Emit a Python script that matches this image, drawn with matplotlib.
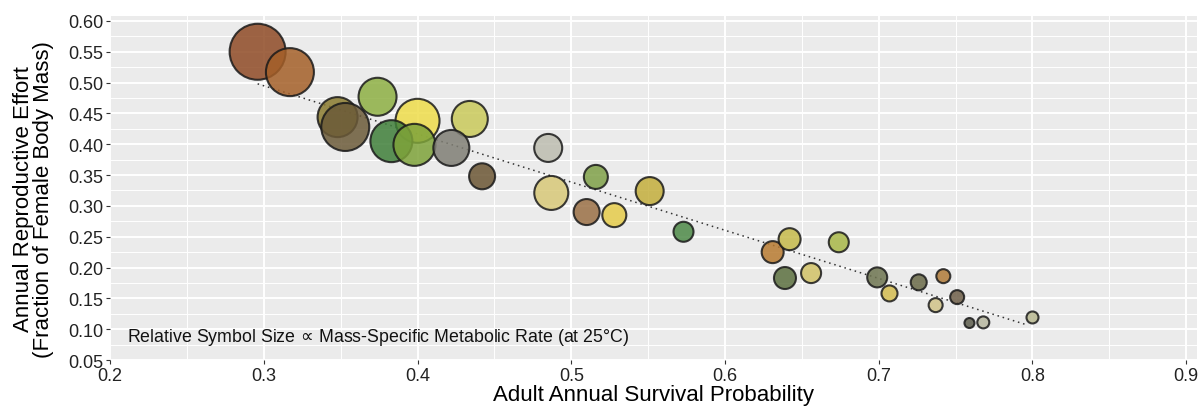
import numpy as np
import matplotlib.pyplot as plt
from matplotlib.ticker import MultipleLocator

plt.rcParams['font.family'] = ['Liberation Sans', 'DejaVu Sans']

# adult survival, reproductive effort, relative metabolic rate (symbol size), colour
survival = [0.296, 0.317, 0.348, 0.353, 0.374, 0.400, 0.383, 0.398, 0.434, 0.422,
            0.442, 0.485, 0.487, 0.516, 0.510, 0.528, 0.551, 0.573, 0.631, 0.642,
            0.639, 0.656, 0.674, 0.699, 0.707, 0.726, 0.742, 0.737, 0.751, 0.759,
            0.768, 0.800]
effort = [0.550, 0.517, 0.444, 0.428, 0.477, 0.438, 0.405, 0.399, 0.441, 0.394,
          0.348, 0.394, 0.321, 0.347, 0.290, 0.285, 0.324, 0.258, 0.225, 0.246,
          0.183, 0.191, 0.241, 0.184, 0.158, 0.176, 0.186, 0.139, 0.152, 0.110,
          0.111, 0.119]
metab_rate = [28, 24, 20, 24, 19, 22, 21, 21, 18, 18,
              13, 14, 17, 12, 13, 12, 14, 10, 11, 11,
              11, 10, 10, 10, 8, 8, 7, 7, 7, 5,
              6, 6]
colours = ['#8E4A25', '#A45F28', '#8A7A2E', '#6B5A38', '#8DB043', '#EEDC4A',
           '#3F7F3A', '#7EA33A', '#C9C95A', '#7F7E74', '#6B5634', '#BDBDB0',
           '#D8C878', '#7FA048', '#9A7045', '#E6CC4A', '#C4AE3C', '#4E8A48',
           '#B87A30', '#C6BA4A', '#5C7040', '#D2C266', '#A8B848', '#6E7450',
           '#D4BC50', '#6A6A48', '#B07A38', '#D0C488', '#6E5E48', '#5E5E4E',
           '#B8B8A0', '#B8B890']

# fitted trend line end points
fit_x = [0.296, 0.797]
fit_y = [0.498, 0.1065]

fig = plt.figure(figsize=(12, 4.1), dpi=100)
ax = fig.add_axes([0.0917, 0.1195, 0.9058, 0.839])
ax.set_facecolor('#EBEBEB')

ax.xaxis.set_major_locator(MultipleLocator(0.1))
ax.xaxis.set_minor_locator(MultipleLocator(0.05))
ax.yaxis.set_major_locator(MultipleLocator(0.05))
ax.yaxis.set_minor_locator(MultipleLocator(0.025))
ax.grid(which='major', color='white', lw=1.4)
ax.grid(which='minor', color='white', lw=0.7)
ax.set_axisbelow(True)
for s in ax.spines.values():
    s.set_visible(False)

ax.plot(fit_x, fit_y, ls=(0, (1, 2.5)), color='#333333', lw=1.1, zorder=1)

sizes = (np.array(metab_rate) * 1.44) ** 2
ax.scatter(survival, effort, s=sizes, c=colours, alpha=0.85,
           edgecolors='#1a1a1a', linewidths=1.5, zorder=2)

ax.set_xlim(0.2, 0.907)
ax.set_ylim(0.05, 0.608)
ax.set_xticks(np.arange(0.2, 0.91, 0.1))
ax.set_xticklabels(['0.2', '0.3', '0.4', '0.5', '0.6', '0.7', '0.8', '0.9'])
ax.set_yticks(np.arange(0.05, 0.601, 0.05))
ax.set_yticklabels(['%.2f' % v for v in np.arange(0.05, 0.601, 0.05)])
ax.tick_params(which='major', length=3, color='#333333', labelsize=13,
               labelcolor='#222222', pad=2)
ax.tick_params(which='minor', length=0)

ax.set_xlabel('Adult Annual Survival Probability', fontsize=16, labelpad=0)
ax.set_ylabel('Annual Reproductive Effort\n(Fraction of Female Body Mass)',
              fontsize=16, linespacing=0.9)
ax.yaxis.set_label_coords(-0.052, 0.47)

ax.text(0.211, 0.0885, 'Relative Symbol Size $\\!\\propto\\!$ Mass-Specific Metabolic Rate (at 25\u00b0C)',
        fontsize=12.8, va='center', ha='left', color='#111111')

fig.savefig('out.png', dpi=100)
